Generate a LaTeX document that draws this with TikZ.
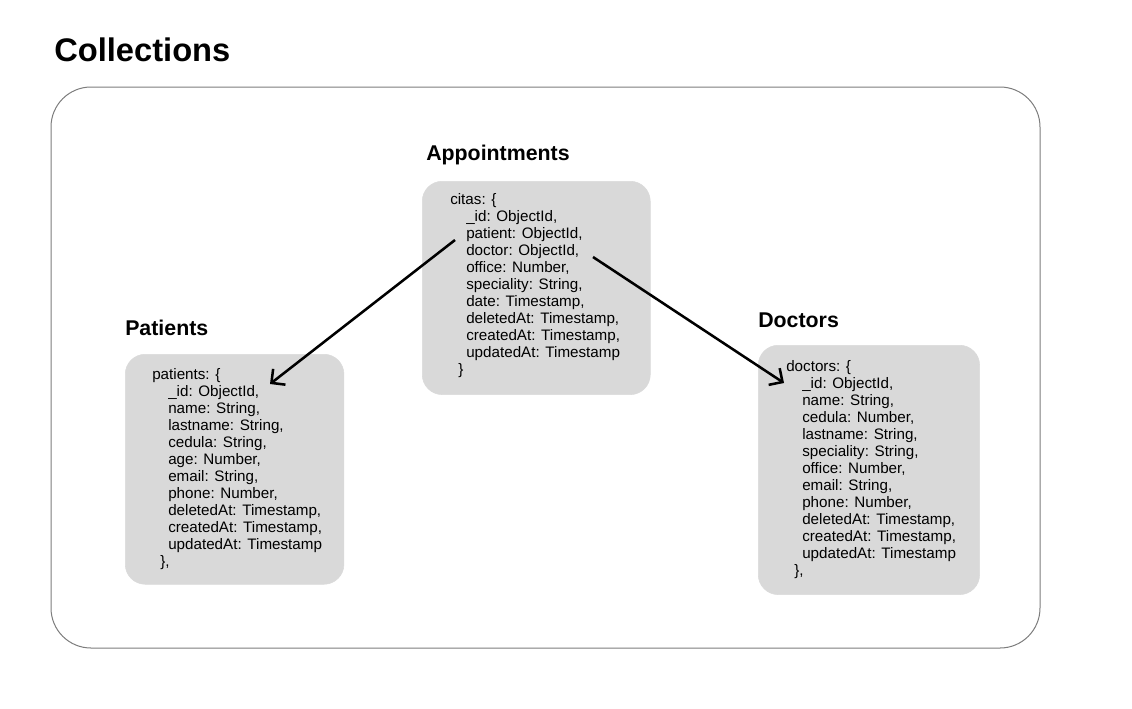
\documentclass[tikz,border=0pt]{standalone}
\usepackage{fontspec}
\setmainfont{Liberation Sans}
\usepackage{xcolor}
\usepackage{tikz}
\usetikzlibrary{arrows.meta,positioning,calc}
\definecolor{boxcolor}{RGB}{217, 217, 217}
\definecolor{framecolor}{RGB}{125, 125, 125}
\newcommand{\ind}{\hspace*{12pt}}
\newcommand{\cls}{\hspace*{6pt}}

\begin{document}
\begin{tikzpicture}[x=0.75pt,y=-0.75pt,
coll/.style={draw=boxcolor,fill=boxcolor,rounded corners=15pt,anchor=north west,inner sep=0pt},
fields/.style={anchor=north west,align=left,inner sep=0pt,font=\fontsize{11.4}{12.75}\selectfont},
title/.style={font=\fontsize{16}{19}\selectfont\bfseries,inner sep=0pt,anchor=west},
arr/.style={-{Straight Barb[length=7.5pt,width=15pt]},line width=1.9pt}]
\useasboundingbox (0,0) rectangle (1132,708);
\node[font=\fontsize{24.5}{29}\selectfont\bfseries,anchor=west,inner sep=0pt](head) at (54,50){Collections};
\draw[framecolor,line width=0.75pt,rounded corners=30pt] (51,87) rectangle (1040,648);
% appointments
\node[coll,minimum width=171pt,minimum height=160pt](cit) at (422,181){};
\node[title](tcit) at (426,155){Appointments};
\node[fields](fcit) at ($(cit.north west)+(28,12)$){citas: \{\\ \ind \_id: ObjectId,\\ \ind patient: ObjectId,\\ \ind doctor: ObjectId,\\ \ind office: Number,\\ \ind speciality: String,\\ \ind date: Timestamp,\\ \ind deletedAt: Timestamp,\\ \ind createdAt: Timestamp,\\ \ind updatedAt: Timestamp\\ \cls\}};
% patients
\node[coll,minimum width=164pt,minimum height=172.5pt](pat) at (125,354){};
\node[title](tpat) at (125,328){Patients};
\node[fields](fpat) at ($(pat.north west)+(27,14)$){patients: \{\\ \ind \_id: ObjectId,\\ \ind name: String,\\ \ind lastname: String,\\ \ind cedula: String,\\ \ind age: Number,\\ \ind email: String,\\ \ind phone: Number,\\ \ind deletedAt: Timestamp,\\ \ind createdAt: Timestamp,\\ \ind updatedAt: Timestamp\\ \cls\},};
% doctors
\node[coll,minimum width=166pt,minimum height=187pt](doc) at (758,345){};
\node[title](tdoc) at (758,320){Doctors};
\node[fields](fdoc) at ($(doc.north west)+(28,15)$){doctors: \{\\ \ind \_id: ObjectId,\\ \ind name: String,\\ \ind cedula: Number,\\ \ind lastname: String,\\ \ind speciality: String,\\ \ind office: Number,\\ \ind email: String,\\ \ind phone: Number,\\ \ind deletedAt: Timestamp,\\ \ind createdAt: Timestamp,\\ \ind updatedAt: Timestamp\\ \cls\},};
% references
\coordinate (p0) at ($(cit.north west)+(33,59)$); \coordinate (p1) at ($(pat.north west)+(145,30)$);
\coordinate (d0) at ($(cit.north west)+(171,76)$); \coordinate (d1) at ($(doc.north west)+(26,38)$);
\draw[arr](p0)--(p1); \draw[arr](d0)--(d1);
\end{tikzpicture}
\end{document}
